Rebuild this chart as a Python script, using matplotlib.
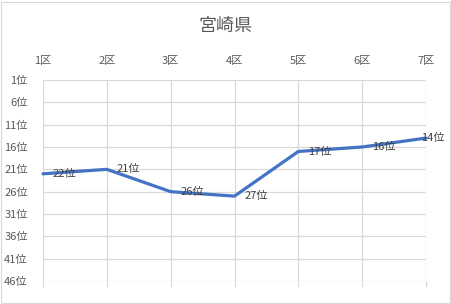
import matplotlib
matplotlib.use("Agg")
import matplotlib.pyplot as plt
from matplotlib.patches import Rectangle

plt.rcParams['font.family'] = ['Noto Sans CJK JP', 'DejaVu Sans']

# --- データ ---
TITLE = "宮崎県"
districts = ["1区", "2区", "3区", "4区", "5区", "6区", "7区"]
ranks = [22, 21, 26, 27, 17, 16, 14]
ytick_values = [1, 6, 11, 16, 21, 26, 31, 36, 41, 46]
# -------------

W, H = 451, 304
fig = plt.figure(figsize=(W / 100, H / 100), dpi=100)
fig.patch.set_facecolor("white")

# 外枠
fig.patches.append(Rectangle((0.5 / W, 1.5 / H), 449 / W, 301 / H,
                             transform=fig.transFigure, fill=False,
                             edgecolor="#d9d9d9", linewidth=0.8))

ax = fig.add_axes([43 / W, 1 - 281 / H, (426 - 43) / W, (281 - 80) / H])

x = list(range(1, len(districts) + 1))
ax.plot(x, ranks, color="#4472C4", linewidth=2.3, solid_joinstyle="round",
        solid_capstyle="round", zorder=3, clip_on=False)

# データラベル
for i, (xi, r) in enumerate(zip(x, ranks)):
    dx = 10 if i < len(x) - 1 else -5
    ax.annotate(f"{r}位", (xi, r), xytext=(dx, 0), textcoords="offset pixels",
                ha="left", va="center", fontsize=8, color="#404040", zorder=4)

ax.set_xlim(1, len(districts))
ax.set_ylim(46, 1)
ax.set_xticks(x)
ax.set_xticklabels(districts)
ax.set_yticks(ytick_values)
ax.set_yticklabels([f"{v}位" for v in ytick_values])

ax.grid(True, color="#d9d9d9", linewidth=0.9)
ax.set_axisbelow(True)
for s in ax.spines.values():
    s.set_visible(False)

ax.tick_params(axis="x", top=False, bottom=True, labeltop=True, labelbottom=False,
               length=4, width=0.9, color="#d9d9d9", pad=6,
               labelsize=8, labelcolor="#595959")
ax.tick_params(axis="y", left=False, length=0, pad=11,
               labelsize=8, labelcolor="#595959")

fig.text(225 / W, 1 - 26 / H, TITLE, ha="center", va="center",
         fontsize=13, color="#595959")

fig.savefig("out.png", dpi=100)
